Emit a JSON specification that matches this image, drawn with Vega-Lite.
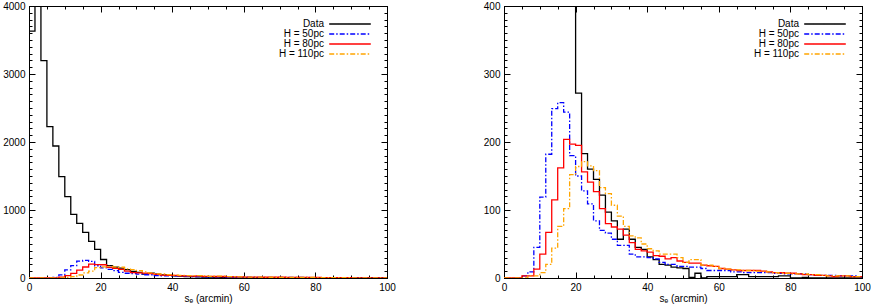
{
  "$schema": "https://vega.github.io/schema/vega-lite/v6.json",
  "background": "white",
  "padding": {"left": 2, "top": 0, "right": 0, "bottom": 0},
  "spacing": 86,
  "config": {
    "view": {"stroke": "black", "strokeWidth": 1},
    "font": "Liberation Sans",
    "axis": {
      "labelFont": "Liberation Sans", "labelFontSize": 10, "labelColor": "black",
      "titleFont": "Liberation Sans", "titleFontSize": 10, "titleColor": "black", "titleFontWeight": "normal",
      "domainColor": "black", "tickColor": "black", "tickWidth": 1, "grid": false,
      "labelFlush": false, "labelOverlap": false, "titlePadding": 1
    },
    "legend": {"labelFont": "Liberation Sans", "labelFontSize": 10, "labelColor": "black"}
  },
  "data": {"values": [
    {"s": 0, "Data": 3630, "H = 50pc": 0, "H = 80pc": 0, "H = 110pc": 0},
    {"s": 1.667, "Data": 4600, "H = 50pc": 0, "H = 80pc": 0, "H = 110pc": 0},
    {"s": 3.333, "Data": 3196, "H = 50pc": 0, "H = 80pc": 0, "H = 110pc": 0},
    {"s": 5, "Data": 2225, "H = 50pc": 3, "H = 80pc": 3, "H = 110pc": 0},
    {"s": 6.667, "Data": 1941, "H = 50pc": 9, "H = 80pc": 3, "H = 110pc": 3},
    {"s": 8.333, "Data": 1490, "H = 50pc": 45, "H = 80pc": 13, "H = 110pc": 3},
    {"s": 10, "Data": 1196, "H = 50pc": 119, "H = 80pc": 35, "H = 110pc": 8},
    {"s": 11.667, "Data": 936, "H = 50pc": 182, "H = 80pc": 67, "H = 110pc": 20},
    {"s": 13.333, "Data": 804, "H = 50pc": 249, "H = 80pc": 115, "H = 110pc": 44},
    {"s": 15, "Data": 672, "H = 50pc": 258, "H = 80pc": 162, "H = 110pc": 76},
    {"s": 16.667, "Data": 539, "H = 50pc": 244, "H = 80pc": 204, "H = 110pc": 102},
    {"s": 18.333, "Data": 422, "H = 50pc": 180, "H = 80pc": 197, "H = 110pc": 152},
    {"s": 20, "Data": 272, "H = 50pc": 150, "H = 80pc": 195, "H = 110pc": 164},
    {"s": 21.667, "Data": 183, "H = 50pc": 128, "H = 80pc": 156, "H = 110pc": 171},
    {"s": 23.333, "Data": 160, "H = 50pc": 109, "H = 80pc": 141, "H = 110pc": 165},
    {"s": 25, "Data": 145, "H = 50pc": 84, "H = 80pc": 127, "H = 110pc": 158},
    {"s": 26.667, "Data": 122, "H = 50pc": 70, "H = 80pc": 102, "H = 110pc": 133},
    {"s": 28.333, "Data": 97, "H = 50pc": 66, "H = 80pc": 80, "H = 110pc": 124},
    {"s": 30, "Data": 84, "H = 50pc": 57, "H = 80pc": 75, "H = 110pc": 107},
    {"s": 31.667, "Data": 57, "H = 50pc": 48, "H = 80pc": 72, "H = 110pc": 91},
    {"s": 33.333, "Data": 72, "H = 50pc": 48, "H = 80pc": 63, "H = 110pc": 76},
    {"s": 35, "Data": 57, "H = 50pc": 35, "H = 80pc": 52, "H = 110pc": 62},
    {"s": 36.667, "Data": 45, "H = 50pc": 31, "H = 80pc": 42, "H = 110pc": 59},
    {"s": 38.333, "Data": 42, "H = 50pc": 31, "H = 80pc": 40, "H = 110pc": 50},
    {"s": 40, "Data": 31, "H = 50pc": 30, "H = 80pc": 38, "H = 110pc": 43},
    {"s": 41.667, "Data": 27, "H = 50pc": 28, "H = 80pc": 33, "H = 110pc": 40},
    {"s": 43.333, "Data": 20, "H = 50pc": 23, "H = 80pc": 32, "H = 110pc": 35},
    {"s": 45, "Data": 19, "H = 50pc": 20, "H = 80pc": 28, "H = 110pc": 35},
    {"s": 46.667, "Data": 16, "H = 50pc": 20, "H = 80pc": 30, "H = 110pc": 35},
    {"s": 48.333, "Data": 15, "H = 50pc": 17, "H = 80pc": 25, "H = 110pc": 30},
    {"s": 50, "Data": 14, "H = 50pc": 17, "H = 80pc": 23, "H = 110pc": 23},
    {"s": 51.667, "Data": 1, "H = 50pc": 16, "H = 80pc": 22, "H = 110pc": 27},
    {"s": 53.333, "Data": 7, "H = 50pc": 16, "H = 80pc": 22, "H = 110pc": 27},
    {"s": 55, "Data": 0, "H = 50pc": 14, "H = 80pc": 19, "H = 110pc": 19},
    {"s": 56.667, "Data": 2, "H = 50pc": 11, "H = 80pc": 18, "H = 110pc": 19},
    {"s": 58.333, "Data": 2, "H = 50pc": 11, "H = 80pc": 17, "H = 110pc": 17},
    {"s": 60, "Data": 2, "H = 50pc": 11, "H = 80pc": 14, "H = 110pc": 14},
    {"s": 61.667, "Data": 2, "H = 50pc": 11, "H = 80pc": 13, "H = 110pc": 13},
    {"s": 63.333, "Data": 2, "H = 50pc": 9, "H = 80pc": 12, "H = 110pc": 12},
    {"s": 65, "Data": 5, "H = 50pc": 9, "H = 80pc": 11, "H = 110pc": 12},
    {"s": 66.667, "Data": 5, "H = 50pc": 8, "H = 80pc": 11, "H = 110pc": 11},
    {"s": 68.333, "Data": 2, "H = 50pc": 8, "H = 80pc": 11, "H = 110pc": 11},
    {"s": 70, "Data": 2, "H = 50pc": 8, "H = 80pc": 11, "H = 110pc": 10},
    {"s": 71.667, "Data": 2, "H = 50pc": 8, "H = 80pc": 10, "H = 110pc": 10},
    {"s": 73.333, "Data": 2, "H = 50pc": 8, "H = 80pc": 9, "H = 110pc": 9},
    {"s": 75, "Data": 2, "H = 50pc": 7, "H = 80pc": 8, "H = 110pc": 8},
    {"s": 76.667, "Data": 3, "H = 50pc": 7, "H = 80pc": 8, "H = 110pc": 7},
    {"s": 78.333, "Data": 3, "H = 50pc": 6, "H = 80pc": 7, "H = 110pc": 7},
    {"s": 80, "Data": 0, "H = 50pc": 6, "H = 80pc": 7, "H = 110pc": 6},
    {"s": 81.667, "Data": 0, "H = 50pc": 6, "H = 80pc": 6, "H = 110pc": 6},
    {"s": 83.333, "Data": 1, "H = 50pc": 6, "H = 80pc": 5, "H = 110pc": 6},
    {"s": 85, "Data": 0, "H = 50pc": 5, "H = 80pc": 5, "H = 110pc": 5},
    {"s": 86.667, "Data": 0, "H = 50pc": 4, "H = 80pc": 4, "H = 110pc": 5},
    {"s": 88.333, "Data": 0, "H = 50pc": 4, "H = 80pc": 4, "H = 110pc": 4},
    {"s": 90, "Data": 0, "H = 50pc": 4, "H = 80pc": 3, "H = 110pc": 3},
    {"s": 91.667, "Data": 0, "H = 50pc": 4, "H = 80pc": 2, "H = 110pc": 3},
    {"s": 93.333, "Data": 0, "H = 50pc": 3, "H = 80pc": 3, "H = 110pc": 3},
    {"s": 95, "Data": 0, "H = 50pc": 3, "H = 80pc": 3, "H = 110pc": 3},
    {"s": 96.667, "Data": 0, "H = 50pc": 3, "H = 80pc": 2, "H = 110pc": 2},
    {"s": 98.333, "Data": 0, "H = 50pc": 2, "H = 80pc": 2, "H = 110pc": 2},
    {"s": 100, "Data": 0, "H = 50pc": 2, "H = 80pc": 2, "H = 110pc": 2}
  ]},
  "transform": [{"fold": ["Data", "H = 50pc", "H = 80pc", "H = 110pc"], "as": ["series", "count"]}],
  "resolve": {
    "scale": {"x": "independent", "y": "independent", "color": "independent", "strokeDash": "independent"},
    "legend": {"color": "independent", "strokeDash": "independent"}
  },
  "hconcat": [
    {
      "width": 358, "height": 272,
      "layer": [
        {
          "mark": {"type": "line", "interpolate": "step-after", "clip": true, "strokeWidth": 1.3},
          "encoding": {
            "x": {"field": "s", "type": "quantitative", "scale": {"domain": [0, 100], "nice": false, "zero": false},
              "axis": {"orient": "bottom", "values": [0, 20, 40, 60, 80, 100], "tickSize": -6, "labelPadding": 10, "title": "s\u2091 (arcmin)"}},
            "y": {"field": "count", "type": "quantitative", "scale": {"domain": [0, 4000], "nice": false},
              "axis": {"orient": "left", "format": "d", "values": [0, 1000, 2000, 3000, 4000], "tickSize": -6, "labelPadding": 10, "title": null}},
            "color": {"field": "series", "type": "nominal",
              "scale": {"domain": ["Data", "H = 50pc", "H = 80pc", "H = 110pc"], "range": ["#000000", "#0000ff", "#ff0000", "#ffa500"]},
              "legend": {"orient": "top-right", "offset": 13, "padding": 0, "title": null, "symbolType": "M-5.2,0H5.2", "symbolSize": 64, "symbolStrokeWidth": 1.3, "symbolFillColor": "transparent", "labelAlign": "right", "labelOffset": -31, "rowPadding": 0, "labelFontSize": 10}},
            "strokeDash": {"field": "series", "type": "nominal",
              "scale": {"domain": ["Data", "H = 50pc", "H = 80pc", "H = 110pc"], "range": [[1, 0], [5, 2, 1.5, 2], [1, 0], [5, 2, 1.5, 2]]},
              "legend": {"orient": "top-right", "offset": 13, "padding": 0, "title": null, "symbolType": "M-5.2,0H5.2", "symbolSize": 64, "symbolStrokeWidth": 1.3, "symbolFillColor": "transparent", "labelAlign": "right", "labelOffset": -31, "rowPadding": 0, "labelFontSize": 10}}
          }
        },
        {
          "mark": {"type": "line", "opacity": 0, "clip": true},
          "encoding": {
            "x": {"field": "s", "type": "quantitative", "scale": {"domain": [0, 100], "nice": false, "zero": false},
              "axis": {"orient": "top", "values": [0, 20, 40, 60, 80, 100], "labels": false, "tickSize": -6, "title": null}},
            "y": {"field": "count", "type": "quantitative", "scale": {"domain": [0, 4000], "nice": false},
              "axis": {"orient": "right", "values": [0, 1000, 2000, 3000, 4000], "labels": false, "tickSize": -6, "title": null}}
          }
        },
        {
          "mark": {"type": "line", "opacity": 0, "clip": true},
          "encoding": {
            "x": {"field": "s", "type": "quantitative", "scale": {"domain": [0, 100], "nice": false, "zero": false},
              "axis": {"orient": "bottom", "values": [0,5,10,15,20,25,30,35,40,45,50,55,60,65,70,75,80,85,90,95,100], "labels": false, "tickSize": -3, "title": null}},
            "y": {"field": "count", "type": "quantitative", "scale": {"domain": [0, 4000], "nice": false},
              "axis": {"orient": "left", "values": [0,100,200,300,400,500,600,700,800,900,1000,1100,1200,1300,1400,1500,1600,1700,1800,1900,2000,2100,2200,2300,2400,2500,2600,2700,2800,2900,3000,3100,3200,3300,3400,3500,3600,3700,3800,3900,4000], "labels": false, "tickSize": -3, "title": null}}
          }
        },
        {
          "mark": {"type": "line", "opacity": 0, "clip": true},
          "encoding": {
            "x": {"field": "s", "type": "quantitative", "scale": {"domain": [0, 100], "nice": false, "zero": false},
              "axis": {"orient": "top", "values": [0,5,10,15,20,25,30,35,40,45,50,55,60,65,70,75,80,85,90,95,100], "labels": false, "tickSize": -3, "title": null}},
            "y": {"field": "count", "type": "quantitative", "scale": {"domain": [0, 4000], "nice": false},
              "axis": {"orient": "right", "values": [0,100,200,300,400,500,600,700,800,900,1000,1100,1200,1300,1400,1500,1600,1700,1800,1900,2000,2100,2200,2300,2400,2500,2600,2700,2800,2900,3000,3100,3200,3300,3400,3500,3600,3700,3800,3900,4000], "labels": false, "tickSize": -3, "title": null}}
          }
        }
      ],
      "resolve": {"axis": {"x": "independent", "y": "independent"}}
    },
    {
      "width": 358, "height": 272,
      "layer": [
        {
          "mark": {"type": "line", "interpolate": "step-after", "clip": true, "strokeWidth": 1.3},
          "encoding": {
            "x": {"field": "s", "type": "quantitative", "scale": {"domain": [0, 100], "nice": false, "zero": false},
              "axis": {"orient": "bottom", "values": [0, 20, 40, 60, 80, 100], "tickSize": -6, "labelPadding": 10, "title": "s\u2091 (arcmin)"}},
            "y": {"field": "count", "type": "quantitative", "scale": {"domain": [0, 400], "nice": false},
              "axis": {"orient": "left", "format": "d", "values": [0, 100, 200, 300, 400], "tickSize": -6, "labelPadding": 10, "title": null}},
            "color": {"field": "series", "type": "nominal",
              "scale": {"domain": ["Data", "H = 50pc", "H = 80pc", "H = 110pc"], "range": ["#000000", "#0000ff", "#ff0000", "#ffa500"]},
              "legend": {"orient": "top-right", "offset": 13, "padding": 0, "title": null, "symbolType": "M-5.2,0H5.2", "symbolSize": 64, "symbolStrokeWidth": 1.3, "symbolFillColor": "transparent", "labelAlign": "right", "labelOffset": -31, "rowPadding": 0, "labelFontSize": 10}},
            "strokeDash": {"field": "series", "type": "nominal",
              "scale": {"domain": ["Data", "H = 50pc", "H = 80pc", "H = 110pc"], "range": [[1, 0], [5, 2, 1.5, 2], [1, 0], [5, 2, 1.5, 2]]},
              "legend": {"orient": "top-right", "offset": 13, "padding": 0, "title": null, "symbolType": "M-5.2,0H5.2", "symbolSize": 64, "symbolStrokeWidth": 1.3, "symbolFillColor": "transparent", "labelAlign": "right", "labelOffset": -31, "rowPadding": 0, "labelFontSize": 10}}
          }
        },
        {
          "mark": {"type": "line", "opacity": 0, "clip": true},
          "encoding": {
            "x": {"field": "s", "type": "quantitative", "scale": {"domain": [0, 100], "nice": false, "zero": false},
              "axis": {"orient": "top", "values": [0, 20, 40, 60, 80, 100], "labels": false, "tickSize": -6, "title": null}},
            "y": {"field": "count", "type": "quantitative", "scale": {"domain": [0, 400], "nice": false},
              "axis": {"orient": "right", "values": [0, 100, 200, 300, 400], "labels": false, "tickSize": -6, "title": null}}
          }
        },
        {
          "mark": {"type": "line", "opacity": 0, "clip": true},
          "encoding": {
            "x": {"field": "s", "type": "quantitative", "scale": {"domain": [0, 100], "nice": false, "zero": false},
              "axis": {"orient": "bottom", "values": [0,5,10,15,20,25,30,35,40,45,50,55,60,65,70,75,80,85,90,95,100], "labels": false, "tickSize": -3, "title": null}},
            "y": {"field": "count", "type": "quantitative", "scale": {"domain": [0, 400], "nice": false},
              "axis": {"orient": "left", "values": [0,10,20,30,40,50,60,70,80,90,100,110,120,130,140,150,160,170,180,190,200,210,220,230,240,250,260,270,280,290,300,310,320,330,340,350,360,370,380,390,400], "labels": false, "tickSize": -3, "title": null}}
          }
        },
        {
          "mark": {"type": "line", "opacity": 0, "clip": true},
          "encoding": {
            "x": {"field": "s", "type": "quantitative", "scale": {"domain": [0, 100], "nice": false, "zero": false},
              "axis": {"orient": "top", "values": [0,5,10,15,20,25,30,35,40,45,50,55,60,65,70,75,80,85,90,95,100], "labels": false, "tickSize": -3, "title": null}},
            "y": {"field": "count", "type": "quantitative", "scale": {"domain": [0, 400], "nice": false},
              "axis": {"orient": "right", "values": [0,10,20,30,40,50,60,70,80,90,100,110,120,130,140,150,160,170,180,190,200,210,220,230,240,250,260,270,280,290,300,310,320,330,340,350,360,370,380,390,400], "labels": false, "tickSize": -3, "title": null}}
          }
        }
      ],
      "resolve": {"axis": {"x": "independent", "y": "independent"}}
    }
  ]
}
